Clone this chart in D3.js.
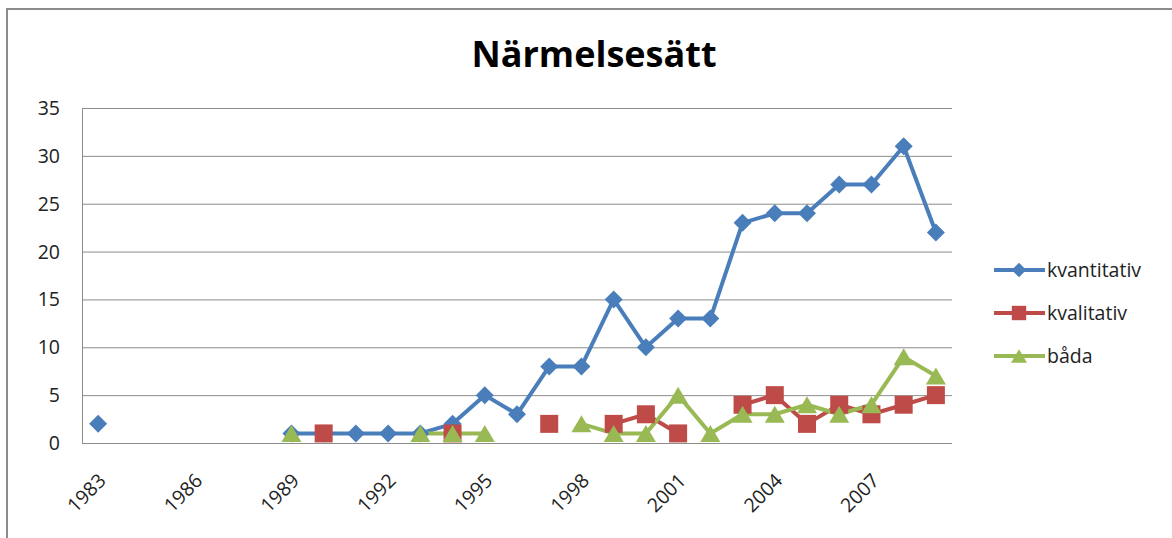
<!DOCTYPE html>
<html><head><meta charset="utf-8">
<script src="https://cdn.jsdelivr.net/npm/d3@7"></script>
<style>body{margin:0;background:#fff;}svg{display:block;font-family:"Open Sans","DejaVu Sans",sans-serif;}</style>
</head><body>
<svg id="c" width="1172" height="538"></svg>
<script>
const years = d3.range(1983, 2010);
const tickYears = [1983, 1986, 1989, 1992, 1995, 1998, 2001, 2004, 2007];
const yTicks = [0, 5, 10, 15, 20, 25, 30, 35];
const kvantitativ = [2,null,null,null,null,null,1,1,1,1,1,2,5,3,8,8,15,10,13,13,23,24,24,27,27,31,22];
const kvalitativ  = [null,null,null,null,null,null,null,1,null,null,null,1,null,null,2,null,2,3,1,null,4,5,2,4,3,4,5];
const bada        = [null,null,null,null,null,null,1,null,null,null,1,1,1,null,null,2,1,1,5,1,3,3,4,3,4,9,7];
const seriesNames = ["kvantitativ","kvalitativ","båda"];
const colors = ["#4a7ebb","#be4b48","#98b954"];

const svg = d3.select("#c");
const L=82, T=108, R=952, B=443;
svg.append("path").attr("d","M7,538V9H1172").attr("fill","none").attr("stroke","#8c8c8c").attr("stroke-width",2);

const x = d3.scaleBand().domain(years).range([L,R]);
const y = d3.scaleLinear().domain([0,35]).range([B,T]);
const cx = d => x(d)+x.bandwidth()/2;

// gridlines
svg.append("g").selectAll("line").data(yTicks).join("line")
  .attr("x1",L).attr("x2",R).attr("y1",d=>y(d)+0.5).attr("y2",d=>y(d)+0.5)
  .attr("stroke","#8c8c8c").attr("stroke-width",1);
svg.append("line").attr("x1",L+0.5).attr("x2",L+0.5).attr("y1",T).attr("y2",B)
  .attr("stroke","#8c8c8c");

// y labels
svg.append("g").selectAll("text").data(yTicks).join("text")
  .attr("x",60).attr("y",d=>y(d)).attr("dy","0.36em").attr("text-anchor","end")
  .attr("font-size",19.5).attr("fill","#222").text(d=>d);

// x labels
svg.append("g").selectAll("text").data(tickYears).join("text")
  .attr("transform",d=>`translate(${cx(d)+4},${B+34}) rotate(-45)`)
  .attr("text-anchor","end").attr("dy","0.36em")
  .attr("font-size",19.5).attr("fill","#222").text(d=>d);

// title
svg.append("text").attr("x",594).attr("y",67).attr("text-anchor","middle")
  .attr("font-size",36).attr("font-weight","bold").attr("fill","#000").text("Närmelsesätt");

const data = [kvantitativ,kvalitativ,bada];
const line = d3.line().defined(d=>d.v!=null).x(d=>cx(d.year)).y(d=>y(d.v));
const markers = [
  "M0,-9L9,0L0,9L-9,0Z",
  "M-9,-9H9V9H-9Z",
  "M0,-8.5L10,8.5H-10Z"
];

data.forEach((vals,i)=>{
  const pts = years.map((yr,j)=>({year:yr,v:vals[j]}));
  svg.append("path").datum(pts).attr("d",line).attr("fill","none")
    .attr("stroke",colors[i]).attr("stroke-width",4).attr("stroke-linejoin","round");
});
data.forEach((vals,i)=>{
  const pts = years.map((yr,j)=>({year:yr,v:vals[j]})).filter(d=>d.v!=null);
  svg.append("g").selectAll("path").data(pts).join("path")
    .attr("d",markers[i])
    .attr("transform",d=>`translate(${cx(d.year)},${y(d.v)})`)
    .attr("fill",colors[i]);
});

// legend
const ly = [270, 313, 356];
seriesNames.forEach((n,i)=>{
  const g = svg.append("g").attr("transform",`translate(0,${ly[i]})`);
  g.append("line").attr("x1",994).attr("x2",1045).attr("stroke",colors[i]).attr("stroke-width",4);
  g.append("path").attr("d",markers[i]).attr("transform",`translate(1019,0) scale(0.8)`).attr("fill",colors[i]);
  g.append("text").attr("x",1047).attr("dy","0.36em").attr("font-size",19.5).attr("fill","#222").text(n);
});
</script>
</body></html>
